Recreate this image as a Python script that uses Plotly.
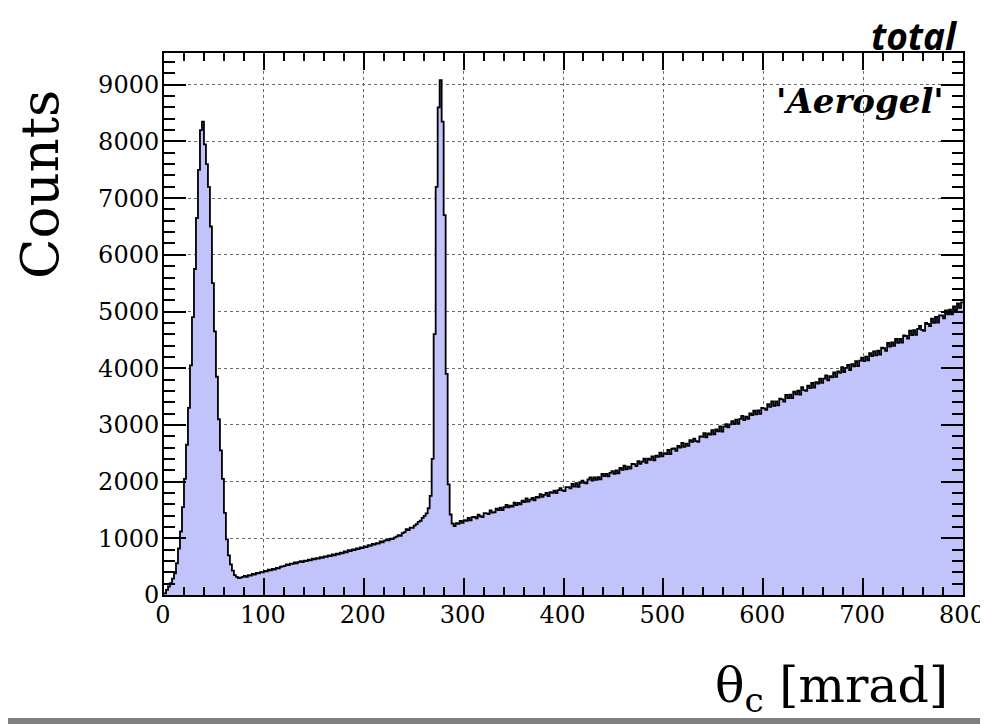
import numpy as np
import plotly.graph_objects as go

# Histogram of Cherenkov angle, 2 mrad bins from 0 to 800 mrad
BIN_WIDTH = 2  # mrad

# bins 0-80 mrad (first peak)
counts_peak1 = [
    30, 90, 150, 210, 290, 380, 560, 820, 1120, 1550,
    2050, 2650, 3300, 4050, 4900, 5750, 6650, 7500, 8200, 8350,
    7950, 7600, 7200, 6500, 5500, 4650, 3850, 3100, 2550, 2050,
    1450, 980, 700, 540, 430, 350, 320, 300, 305, 320,
]
# bins 80-264 mrad (rising background)
counts_mid = [
    335, 318, 352, 341, 372, 358, 390, 381, 405, 398,
    425, 418, 445, 436, 462, 450, 478, 470, 498, 505,
    512, 540, 528, 555, 548, 575, 560, 582, 596, 580,
    605, 598, 622, 610, 640, 628, 652, 640, 668, 655,
    680, 672, 698, 685, 715, 700, 728, 718, 745, 735,
    770, 752, 790, 775, 805, 792, 822, 810, 840, 828,
    858, 845, 880, 868, 900, 888, 915, 905, 945, 930,
    958, 975, 962, 995, 985, 1012, 1030, 1055, 1042, 1090,
    1110, 1160, 1145, 1190, 1185, 1225, 1250, 1290, 1310, 1360,
    1395, 1440,
]
# bins 264-290 mrad (second, narrow peak)
counts_peak2 = [
    1530, 1750, 2400, 4600, 7200, 8600, 9080, 8350, 6700, 3900,
    1950, 1420, 1260,
]
# bins 290-800 mrad (background)
counts_tail = [
    1216, 1268, 1255, 1307, 1274, 1321, 1307, 1359, 1316, 1372,
    1379, 1350, 1417, 1389, 1375, 1442, 1438, 1425, 1492, 1453,
    1460, 1522, 1498, 1540, 1496, 1548, 1590, 1546, 1578, 1559,
    1628, 1584, 1626, 1597, 1663, 1639, 1705, 1647, 1683, 1714,
    1670, 1731, 1718, 1779, 1730, 1766, 1802, 1744, 1815, 1801,
    1842, 1798, 1850, 1886, 1847, 1833, 1904, 1901, 1882, 1959,
    1910, 1972, 1909, 1980, 2017, 1978, 1970, 2037, 2073, 2020,
    2076, 2033, 2080, 2041, 2138, 2099, 2136, 2093, 2154, 2186,
    2136, 2199, 2147, 2240, 2208, 2280, 2218, 2266, 2229, 2312,
    2309, 2272, 2360, 2313, 2351, 2403, 2331, 2404, 2382, 2445,
    2377, 2460, 2438, 2511, 2444, 2503, 2484, 2559, 2485, 2580,
    2586, 2542, 2632, 2598, 2683, 2614, 2670, 2630, 2731, 2701,
    2757, 2713, 2703, 2799, 2789, 2855, 2781, 2851, 2827, 2907,
    2834, 2920, 2887, 2973, 2884, 2971, 3012, 2959, 3010, 3066,
    3013, 3094, 3021, 3107, 3158, 3085, 3146, 3108, 3204, 3175,
    3252, 3188, 3255, 3196, 3302, 3293, 3265, 3367, 3318, 3415,
    3337, 3414, 3346, 3462, 3449, 3411, 3528, 3475, 3536, 3473,
    3585, 3537, 3604, 3535, 3667, 3614, 3601, 3693, 3649, 3741,
    3659, 3756, 3729, 3817, 3744, 3817, 3874, 3787, 3860, 3837,
    3925, 3847, 3945, 3918, 4020, 3933, 4005, 4058, 3966, 4073,
    4031, 4123, 4036, 4134, 4186, 4125, 4204, 4138, 4268, 4212,
    4296, 4225, 4309, 4239, 4363, 4352, 4306, 4445, 4380, 4454,
    4393, 4517, 4446, 4516, 4450, 4579, 4568, 4522, 4662, 4586,
    4670, 4590, 4695, 4745, 4675, 4660, 4800, 4780, 4745, 4875,
    4800, 4905, 4805, 4930, 4930, 4880, 5020, 4950, 5035, 4950,
    5090, 5015, 5145, 5065, 5160,
]

x_tick_vals = [0, 100, 200, 300, 400, 500, 600, 700, 800]
y_tick_vals = [0, 1000, 2000, 3000, 4000, 5000, 6000, 7000, 8000, 9000]

counts = counts_peak1 + counts_mid + counts_peak2 + counts_tail
edges = np.arange(len(counts) + 1) * BIN_WIDTH
yvals = counts + [counts[-1]]

# page body has an 8px margin; target plot area in window pixels:
# x 164..963, y 53..595
O = 8
W, H = 988 - O, 724 - O
L, T = 164 - O, 53 - O
R = W - (963 - O)
B = H - (595 - O)
pw, ph = W - L - R, H - T - B


def px(xw):  # window pixel -> paper x
    return (xw - O - L) / pw


def py(yw):  # window pixel -> paper y
    return (H - B - (yw - O)) / ph


fig = go.Figure()
fig.add_trace(go.Scatter(
    x=edges, y=yvals, mode="lines",
    line=dict(shape="hv", color="black", width=1.8),
    fill="tozeroy", fillcolor="#c3c3fb",
    hoverinfo="skip", showlegend=False,
))

tickfont = dict(family="DejaVu Serif", size=24, color="black")
common = dict(
    ticks="inside", tickwidth=1.5, tickcolor="black",
    showline=True, linecolor="black", linewidth=2, mirror="allticks",
    showgrid=True, gridcolor="#6a6a6a", griddash="dot", gridwidth=1,
    zeroline=False, tickfont=tickfont, automargin=False,
)

fig.update_layout(
    width=W, height=H,
    margin=dict(l=L, r=R, t=T, b=B),
    paper_bgcolor="white", plot_bgcolor="white",
    showlegend=False,
    xaxis=dict(
        range=[0, 800], tickvals=x_tick_vals, ticklen=17,
        ticklabelstandoff=-3, ticklabelshift=-1,
        minor=dict(dtick=20, ticklen=8, tickwidth=1.5, tickcolor="black",
                   ticks="inside", showgrid=False),
        **common,
    ),
    yaxis=dict(
        range=[0, 9560], tickvals=y_tick_vals, ticklen=22,
        ticklabelstandoff=-2,
        minor=dict(dtick=200, ticklen=11, tickwidth=1.5, tickcolor="black",
                   ticks="inside", showgrid=False),
        **common,
    ),
    annotations=[
        dict(text="<b><i>total</i></b>", xref="paper", yref="paper",
             x=px(960), y=py(O), xanchor="right", yanchor="top",
             showarrow=False, font=dict(family="Open Sans", size=37, color="black")),
        dict(text="<b><i>'Aerogel'</i></b>", xref="paper", yref="paper",
             x=px(946), y=py(101), xanchor="right", yanchor="middle",
             showarrow=False, font=dict(family="DejaVu Serif", size=34, color="black")),
        dict(text="Counts", xref="paper", yref="paper", textangle=-90,
             x=px(39), y=py(185), xanchor="center", yanchor="middle",
             showarrow=False, font=dict(family="DejaVu Serif", size=53, color="black")),
        dict(text="θ<sub>c</sub> [mrad]", xref="paper", yref="paper",
             x=px(950), y=py(688), xanchor="right", yanchor="middle",
             showarrow=False, font=dict(family="DejaVu Serif", size=49, color="black")),
    ],
    shapes=[
        dict(type="rect", xref="paper", yref="paper",
             x0=px(-20), x1=px(1010), y0=py(718), y1=py(740),
             fillcolor="#808080", line=dict(width=0), layer="above"),
    ],
)

fig.write_html("out.html")
